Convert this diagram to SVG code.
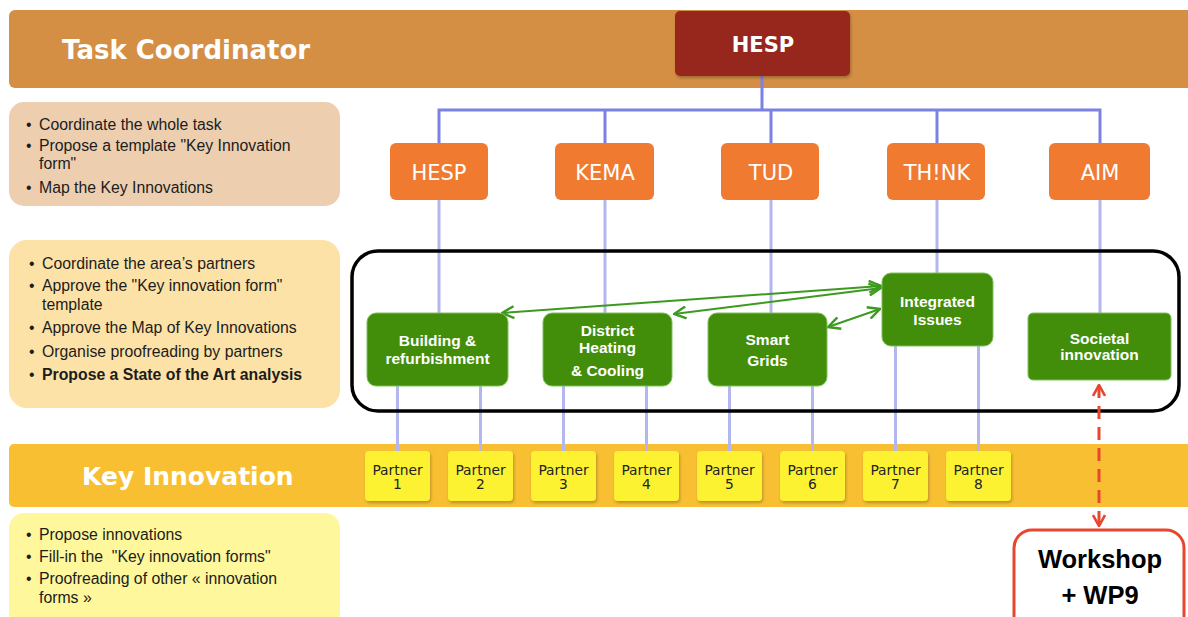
<svg xmlns="http://www.w3.org/2000/svg" width="1188" height="617" viewBox="0 0 1188 617">
<defs>
<style>
.band-title{font-family:"DejaVu Sans",Verdana,sans-serif;font-weight:bold;fill:#ffffff}
.desc{font-family:"Liberation Sans",Arial,sans-serif;font-size:15.8px;fill:#1c1c1c}
.org{fill:#F07B30}
.orgt{font-family:"DejaVu Sans",Verdana,sans-serif;font-size:21px;fill:#ffffff;text-anchor:middle}
.grn{fill:#428E0A;stroke:#7CC15A;stroke-width:1}
.grnt{font-family:"Liberation Sans",Arial,sans-serif;font-size:15.5px;font-weight:bold;fill:#ffffff;text-anchor:middle}
.ptn{fill:#FCF230;filter:url(#sh)}
.ptnt{font-family:"DejaVu Sans",Verdana,sans-serif;font-size:13.8px;fill:#222222;text-anchor:middle}
.blue{stroke:#7C81E4;stroke-width:3;fill:none}
.lblue{stroke:#B4B6F0;stroke-width:3;fill:none}
.garr{stroke:#3C9A1E;stroke-width:2;fill:none;marker-start:url(#gh);marker-end:url(#gh)}
</style>
<filter id="sh" x="-20%" y="-20%" width="140%" height="140%">
<feDropShadow dx="1" dy="2" stdDeviation="1.5" flood-color="#000000" flood-opacity="0.25"/>
</filter>
<marker id="gh" viewBox="0 0 14 14" refX="13" refY="7" markerWidth="14" markerHeight="14" markerUnits="userSpaceOnUse" orient="auto-start-reverse">
<path d="M1,1 L13,7 L1,13" fill="none" stroke="#3C9A1E" stroke-width="2.4"/>
</marker>
<marker id="rh" viewBox="0 0 14 14" refX="13" refY="7" markerWidth="14" markerHeight="14" markerUnits="userSpaceOnUse" orient="auto-start-reverse">
<path d="M2,1 L13,7 L2,13" fill="none" stroke="#E8472F" stroke-width="2.6"/>
</marker>
</defs>

<!-- bands -->
<g id="band-task">
<rect x="9" y="10" width="1190" height="78" rx="6" fill="#D48F45"/>
<text class="band-title" x="62" y="59" font-size="26">Task Coordinator</text>
</g>
<g id="band-key">
<rect x="9" y="444" width="1190" height="63" rx="5" fill="#F9BF33"/>
<text class="band-title" x="82" y="485" font-size="25">Key Innovation</text>
</g>

<!-- left description panels -->
<g id="desc-task">
<rect x="9" y="102" width="331" height="104" rx="15" fill="#EDCFB0"/>
<text class="desc">
<tspan x="26" y="130">•</tspan><tspan x="39" y="130">Coordinate the whole task</tspan>
<tspan x="26" y="151">•</tspan><tspan x="39" y="151">Propose a template "Key Innovation</tspan>
<tspan x="39" y="169">form"</tspan>
<tspan x="26" y="193">•</tspan><tspan x="39" y="193">Map the Key Innovations</tspan>
</text>
</g>
<g id="desc-area">
<rect x="9" y="240" width="331" height="168" rx="18" fill="#FCE2A6"/>
<text class="desc">
<tspan x="29" y="269">•</tspan><tspan x="42" y="269">Coordinate the area’s partners</tspan>
<tspan x="29" y="291">•</tspan><tspan x="42" y="291">Approve the "Key innovation form"</tspan>
<tspan x="42" y="310">template</tspan>
<tspan x="29" y="333">•</tspan><tspan x="42" y="333">Approve the Map of Key Innovations</tspan>
<tspan x="29" y="357">•</tspan><tspan x="42" y="357">Organise proofreading by partners</tspan>
<tspan x="29" y="380">•</tspan><tspan x="42" y="380" font-weight="bold">Propose a State of the Art analysis</tspan>
</text>
</g>
<g id="desc-key">
<rect x="9" y="513" width="331" height="120" rx="15" fill="#FEF79B"/>
<text class="desc">
<tspan x="26" y="540">•</tspan><tspan x="39" y="540">Propose innovations</tspan>
<tspan x="26" y="562">•</tspan><tspan x="39" y="562" xml:space="preserve">Fill-in the  "Key innovation forms"</tspan>
<tspan x="26" y="584">•</tspan><tspan x="39" y="584">Proofreading of other « innovation</tspan>
<tspan x="39" y="603">forms »</tspan>
</text>
</g>

<!-- connectors -->
<g id="connectors">
<path class="blue" d="M762,76 V110 M439,143 V110 H1100 V143 M605,110 V143 M771,110 V143 M937,110 V143"/>
<path class="lblue" d="M439,200 V313 M605,200 V313 M771,200 V313 M937,200 V273 M1100,200 V313"/>
<path class="lblue" d="M397.5,386 V451 M480.5,386 V451 M563.5,386 V451 M646.5,386 V451 M729.5,386 V451 M812.5,386 V451 M895.5,346 V451 M978.5,346 V451"/>
<rect x="352" y="251" width="827" height="160" rx="26" fill="none" stroke="#000000" stroke-width="3.5"/>
<line class="garr" x1="502" y1="313" x2="881" y2="286"/>
<line class="garr" x1="674" y1="314" x2="881" y2="288"/>
<line class="garr" x1="828" y1="327" x2="880" y2="309"/>
<line x1="1099" y1="385" x2="1099" y2="526" stroke="#E8472F" stroke-width="3" stroke-dasharray="13 8" marker-start="url(#rh)" marker-end="url(#rh)"/>
</g>

<!-- top coordinator -->
<g id="node-hesp-top">
<rect x="675" y="11" width="175" height="65" rx="5" fill="#97251A" filter="url(#sh)"/>
<text x="763" y="52" font-family="DejaVu Sans,Verdana,sans-serif" font-size="21" font-weight="bold" fill="#ffffff" text-anchor="middle">HESP</text>
</g>

<!-- area coordinators -->
<g id="node-hesp"><rect class="org" x="390" y="143" width="98" height="57" rx="6"/><text class="orgt" x="439" y="180">HESP</text></g>
<g id="node-kema"><rect class="org" x="555" y="143" width="99" height="57" rx="6"/><text class="orgt" x="605" y="180">KEMA</text></g>
<g id="node-tud"><rect class="org" x="721" y="143" width="98" height="57" rx="6"/><text class="orgt" x="771" y="180">TUD</text></g>
<g id="node-think"><rect class="org" x="887" y="143" width="98" height="57" rx="6"/><text class="orgt" x="937" y="180">TH!NK</text></g>
<g id="node-aim"><rect class="org" x="1049" y="143" width="101" height="57" rx="6"/><text class="orgt" x="1100" y="180">AIM</text></g>

<!-- areas -->
<g id="node-building"><rect class="grn" x="367" y="313" width="141" height="73" rx="9"/>
<text class="grnt"><tspan x="437.5" y="346">Building &amp;</tspan><tspan x="437.5" y="364">refurbishment</tspan></text></g>
<g id="node-district"><rect class="grn" x="543" y="313" width="129" height="73" rx="9"/>
<text class="grnt"><tspan x="607.5" y="336">District</tspan><tspan x="607.5" y="353">Heating</tspan><tspan x="607.5" y="376">&amp; Cooling</tspan></text></g>
<g id="node-smart"><rect class="grn" x="708" y="313" width="119" height="73" rx="9"/>
<text class="grnt"><tspan x="767.5" y="345">Smart</tspan><tspan x="767.5" y="366">Grids</tspan></text></g>
<g id="node-integrated"><rect class="grn" x="882" y="273" width="111" height="73" rx="9"/>
<text class="grnt"><tspan x="937.5" y="307">Integrated</tspan><tspan x="937.5" y="325">Issues</tspan></text></g>
<g id="node-societal"><rect class="grn" x="1028" y="313" width="143" height="67" rx="5"/>
<text class="grnt"><tspan x="1099.5" y="344">Societal</tspan><tspan x="1099.5" y="360">innovation</tspan></text></g>

<!-- partners -->
<g id="node-p1"><rect class="ptn" x="365" y="451" width="65" height="50" rx="4"/><text class="ptnt"><tspan x="397.5" y="475">Partner</tspan><tspan x="397.5" y="489">1</tspan></text></g>
<g id="node-p2"><rect class="ptn" x="448" y="451" width="65" height="50" rx="4"/><text class="ptnt"><tspan x="480.5" y="475">Partner</tspan><tspan x="480.5" y="489">2</tspan></text></g>
<g id="node-p3"><rect class="ptn" x="531" y="451" width="65" height="50" rx="4"/><text class="ptnt"><tspan x="563.5" y="475">Partner</tspan><tspan x="563.5" y="489">3</tspan></text></g>
<g id="node-p4"><rect class="ptn" x="614" y="451" width="65" height="50" rx="4"/><text class="ptnt"><tspan x="646.5" y="475">Partner</tspan><tspan x="646.5" y="489">4</tspan></text></g>
<g id="node-p5"><rect class="ptn" x="697" y="451" width="65" height="50" rx="4"/><text class="ptnt"><tspan x="729.5" y="475">Partner</tspan><tspan x="729.5" y="489">5</tspan></text></g>
<g id="node-p6"><rect class="ptn" x="780" y="451" width="65" height="50" rx="4"/><text class="ptnt"><tspan x="812.5" y="475">Partner</tspan><tspan x="812.5" y="489">6</tspan></text></g>
<g id="node-p7"><rect class="ptn" x="863" y="451" width="65" height="50" rx="4"/><text class="ptnt"><tspan x="895.5" y="475">Partner</tspan><tspan x="895.5" y="489">7</tspan></text></g>
<g id="node-p8"><rect class="ptn" x="946" y="451" width="65" height="50" rx="4"/><text class="ptnt"><tspan x="978.5" y="475">Partner</tspan><tspan x="978.5" y="489">8</tspan></text></g>

<!-- workshop -->
<g id="node-workshop">
<rect x="1014" y="530" width="170" height="110" rx="18" fill="#ffffff" stroke="#E8472F" stroke-width="3"/>
<text font-family="Liberation Sans,Arial,sans-serif" font-size="25.5" font-weight="bold" fill="#000000" text-anchor="middle"><tspan x="1100" y="568">Workshop</tspan><tspan x="1100" y="604">+ WP9</tspan></text>
</g>
</svg>
